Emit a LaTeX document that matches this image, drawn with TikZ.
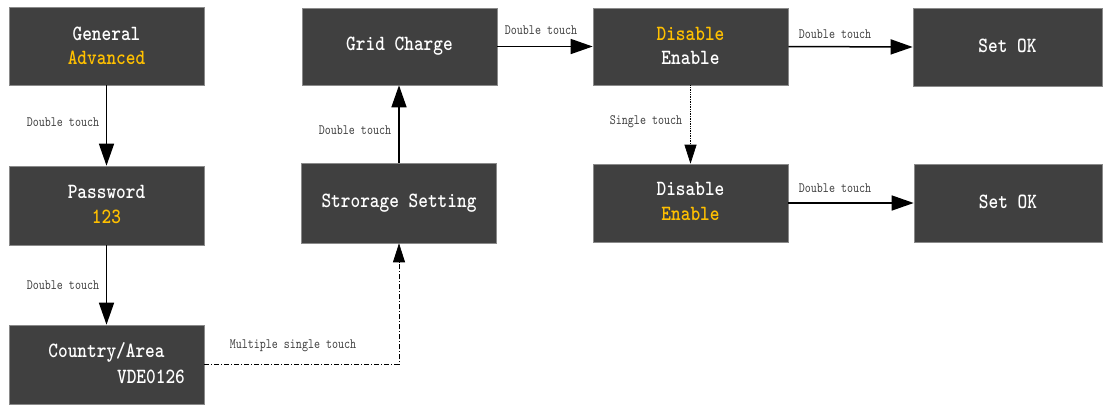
\documentclass[tikz,border=0pt]{standalone}
\usepackage{fontspec}
\usetikzlibrary{arrows.meta}
\newfontfamily\boxfont[FakeStretch=0.85]{lmmonolt10-bold.otf}
\newfontfamily\lblfont[FakeStretch=0.8]{lmmono10-regular.otf}
\definecolor{boxgray}{HTML}{404040}
\definecolor{boxedge}{HTML}{8A8A8A}
\definecolor{hilite}{HTML}{FFC000}
\definecolor{lblgray}{HTML}{404040}
\tikzset{
  stepbox/.style={fill=boxgray, draw=boxedge, line width=0.6pt, minimum width=195pt, minimum height=78pt, inner sep=0pt},
  boxtext/.style={text=white, font=\boxfont\fontsize{21.7}{25}\selectfont, inner sep=0pt, align=center},
  lbl/.style={text=lblgray, font=\lblfont\fontsize{14.3}{16}\selectfont, inner sep=0pt},
  bigarrow/.style={line width=1.5pt, -{Triangle[length=22pt,width=15pt]}},
  thinarrow/.style={line width=0.7pt, -{Triangle[length=19pt,width=12pt]}},
}
\begin{document}
\begin{tikzpicture}[x=1pt,y=-1pt]
\useasboundingbox (0,0) rectangle (1103,405);
% boxes
\node[stepbox] (gen) at (106.5,46) {};
\node[stepbox, minimum height=79pt] (pw) at (106.5,205.5) {};
\node[stepbox, minimum height=79pt] (cty) at (106.5,364.5) {};
\node[stepbox, minimum height=77pt] (grid) at (399.5,46.5) {};
\node[stepbox, minimum height=80pt] (stor) at (399,203) {};
\node[stepbox, minimum height=77pt] (dis1) at (690.5,46.5) {};
\node[stepbox] (dis2) at (690.5,203) {};
\node[stepbox, minimum width=189pt] (ok1) at (1007.5,47) {};
\node[stepbox, minimum width=188pt] (ok2) at (1008,203) {};
% box texts
\node[boxtext] (genA) at (106.5,34) {General};
\node[boxtext, text=hilite] (genB) at (106.5,58) {Advanced};
\node[boxtext] (pwA) at (106.5,192) {Password};
\node[boxtext, text=hilite] (pwB) at (106.5,217) {123};
\node[boxtext] (ctyA) at (106.5,352) {Country/Area};
\node[boxtext] (ctyB) at (151,377) {VDE0126};
\node[boxtext] (gridT) at (399.5,46) {Grid Charge};
\node[boxtext] (storT) at (399,203) {Strorage Setting};
\node[boxtext, text=hilite] (dis1A) at (690.5,34) {Disable};
\node[boxtext] (dis1B) at (690.5,58) {Enable};
\node[boxtext] (dis2A) at (690.5,189) {Disable};
\node[boxtext, text=hilite] (dis2B) at (690.5,214) {Enable};
\node[boxtext] (ok1T) at (1007.5,46) {Set OK};
\node[boxtext] (ok2T) at (1008,202) {Set OK};
% connectors
\draw[bigarrow] (gen) -- (pw);
\draw[bigarrow] (pw) -- (cty);
\draw[thinarrow, dash pattern=on 5pt off 2pt on 1pt off 2pt] (cty.east) -| (stor.south);
\draw[bigarrow] (stor.north) -- (stor.north |- grid.south);
\draw[bigarrow] (grid.east) -- (dis1.west);
\draw[thinarrow, densely dotted] (dis1) -- (dis2);
\draw[bigarrow] (dis1.east) -- (ok1.west);
\draw[bigarrow] (dis2.east) -- (ok2.west);
% labels
\node[lbl] (l1) at (63,122) {Double touch};
\node[lbl] (l2) at (63,285) {Double touch};
\node[lbl] (l3) at (293,346) {Multiple single touch};
\node[lbl] (l4) at (355,130) {Double touch};
\node[lbl] (l5) at (541,30) {Double touch};
\node[lbl] (l6) at (646,122) {Single touch};
\node[lbl] (l7) at (835,34) {Double touch};
\node[lbl] (l8) at (835,188) {Double touch};
\end{tikzpicture}
\end{document}
